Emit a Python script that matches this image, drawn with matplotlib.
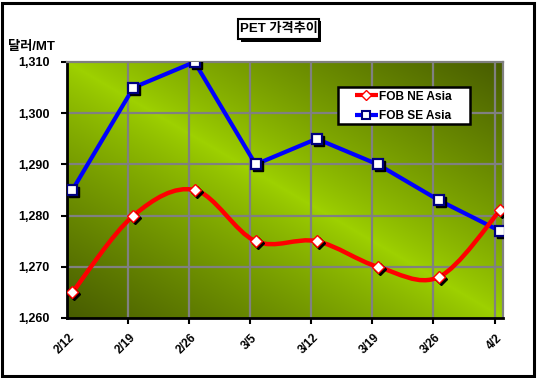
import matplotlib
matplotlib.use('Agg')
import matplotlib.pyplot as plt
import matplotlib.transforms as mtransforms
from matplotlib.path import Path
from matplotlib.patches import PathPatch, Rectangle
from matplotlib.lines import Line2D
import numpy as np

dates = ['2/12', '2/19', '2/26', '3/5', '3/12', '3/19', '3/26', '4/2']
ne_asia = [1265, 1280, 1285, 1275, 1275, 1270, 1268, 1281]
se_asia = [1285, 1305, 1310, 1290, 1295, 1290, 1283, 1277]
y_ticks = [1260, 1270, 1280, 1290, 1300, 1310]

plt.rcParams['font.family'] = ['Liberation Sans', 'Noto Sans CJK KR']
plt.rcParams['font.weight'] = 'bold'

W, H = 537, 378
fig = plt.figure(figsize=(W / 100, H / 100), dpi=100)
ax = fig.add_axes([67 / W, 1 - 318 / H, (503 - 67) / W, (318 - 62) / H])

# gradient background (bright on the diagonal, dark in two corners)
n = 256
u = np.linspace(0, 1, n)
U, V = np.meshgrid(u, u)
t = np.abs(U - V) ** 0.85
bright = np.array([0.62, 0.82, 0.0])
dark = np.array([0.28, 0.36, 0.0])
img = bright + (dark - bright) * t[..., None]
ax.imshow(img, extent=[0, 1, 0, 1], transform=ax.transAxes, aspect='auto',
          origin='upper', zorder=0)

x = np.arange(len(dates))
x0 = -0.088
ax.set_xlim(x0, 7.05)
ax.set_ylim(1260, 1310)

# grid
for k in range(1, 8):
    ax.axvline(k + x0, color='#808080', lw=1.6, zorder=1)
for v in y_ticks[1:-1]:
    ax.axhline(v, color='#808080', lw=1.6, zorder=1)

shadow = mtransforms.offset_copy(ax.transData, fig=fig, x=2, y=-2, units='dots')

# FOB SE Asia (straight line)
ax.plot(x, se_asia, color='#0000FF', lw=3, zorder=3)
ax.plot(x, se_asia, ls='none', marker='s', ms=6.5, mfc='black', mec='black',
        transform=shadow, zorder=4)
ax.plot(x, se_asia, ls='none', marker='s', ms=6.5, mfc='white', mec='#000080',
        mew=1.6, zorder=5)


# FOB NE Asia (smoothed line)
def smooth_path(xs, ys):
    pts = np.column_stack([xs, ys]).astype(float)
    verts = [pts[0]]
    codes = [Path.MOVETO]
    for i in range(len(pts) - 1):
        p0 = pts[i - 1] if i > 0 else pts[i]
        p1 = pts[i]
        p2 = pts[i + 1]
        p3 = pts[i + 2] if i + 2 < len(pts) else pts[i + 1]
        verts += [p1 + (p2 - p0) / 6, p2 - (p3 - p1) / 6, p2]
        codes += [Path.CURVE4] * 3
    return Path(verts, codes)


ax.add_patch(PathPatch(smooth_path(x, ne_asia), fill=False, ec='#FF0000',
                       lw=3.2, capstyle='round', joinstyle='round', zorder=3))
ax.plot(x, ne_asia, ls='none', marker='D', ms=6.3, mfc='black', mec='black',
        transform=shadow, zorder=4)
ax.plot(x, ne_asia, ls='none', marker='D', ms=6.3, mfc='white', mec='#FF0000',
        mew=1, zorder=5)

# spines
for s in ['top', 'right']:
    ax.spines[s].set_color('#808080')
    ax.spines[s].set_linewidth(1.6)
for s in ['left', 'bottom']:
    ax.spines[s].set_color('black')
    ax.spines[s].set_linewidth(2)

ax.set_yticks(y_ticks, [f'{v:,}' for v in y_ticks])
ax.tick_params(axis='y', length=4, width=1.5, direction='out', pad=8.5,
               labelsize=9, colors='black')
ax.set_xticks(x, dates, rotation=45, ha='right', va='center', rotation_mode='anchor')
ax.set_xticks([k + x0 for k in range(1, 8)], minor=True)
ax.tick_params(axis='x', which='major', length=0, pad=13, labelsize=8.5)
ax.tick_params(axis='x', which='minor', length=4, width=1.5, direction='out')

# legend (frame drawn separately)
fig.patches.append(Rectangle((338 / W, 1 - 124 / H), 132 / W, 37 / H, transform=fig.transFigure,
                             fc='white', ec='black', lw=1.8, zorder=5))
handles = [
    Line2D([], [], color='#FF0000', lw=3, solid_capstyle='butt', marker='D', ms=5,
           mfc='white', mec='#FF0000', mew=1),
    Line2D([], [], color='#0000FF', lw=3, solid_capstyle='butt', marker='s', ms=6,
           mfc='white', mec='#000080', mew=1.5),
]
leg = fig.legend(handles, ['FOB NE Asia', 'FOB SE Asia'], loc='upper left',
                 bbox_to_anchor=(355 / W, 1 - 90.5 / H), bbox_transform=fig.transFigure,
                 frameon=False, fontsize=8.6, handlelength=1.9, handletextpad=0.12,
                 labelspacing=0.62, borderpad=0, borderaxespad=0)
leg.set_zorder(6)

# title box with shadow
fig.patches.append(Rectangle((241 / W, 1 - 42 / H), 80 / W, 21 / H, transform=fig.transFigure,
                             fc='black', ec='none', zorder=1))
fig.patches.append(Rectangle((238 / W, 1 - 39 / H), 81 / W, 20 / H, transform=fig.transFigure,
                             fc='white', ec='black', lw=1.5, zorder=2))
fig.text(279 / W, 1 - 29 / H, 'PET 가격추이', ha='center', va='center', fontsize=9.5)
fig.text(8 / W, 1 - 47 / H, '달러/MT', ha='left', va='center', fontsize=9.5)

# outer border
fig.patches.append(Rectangle((2 / W, 2 / H), 532 / W, 373 / H, transform=fig.transFigure,
                             fill=False, ec='black', lw=2.2))

fig.savefig('out.png', dpi=100)
